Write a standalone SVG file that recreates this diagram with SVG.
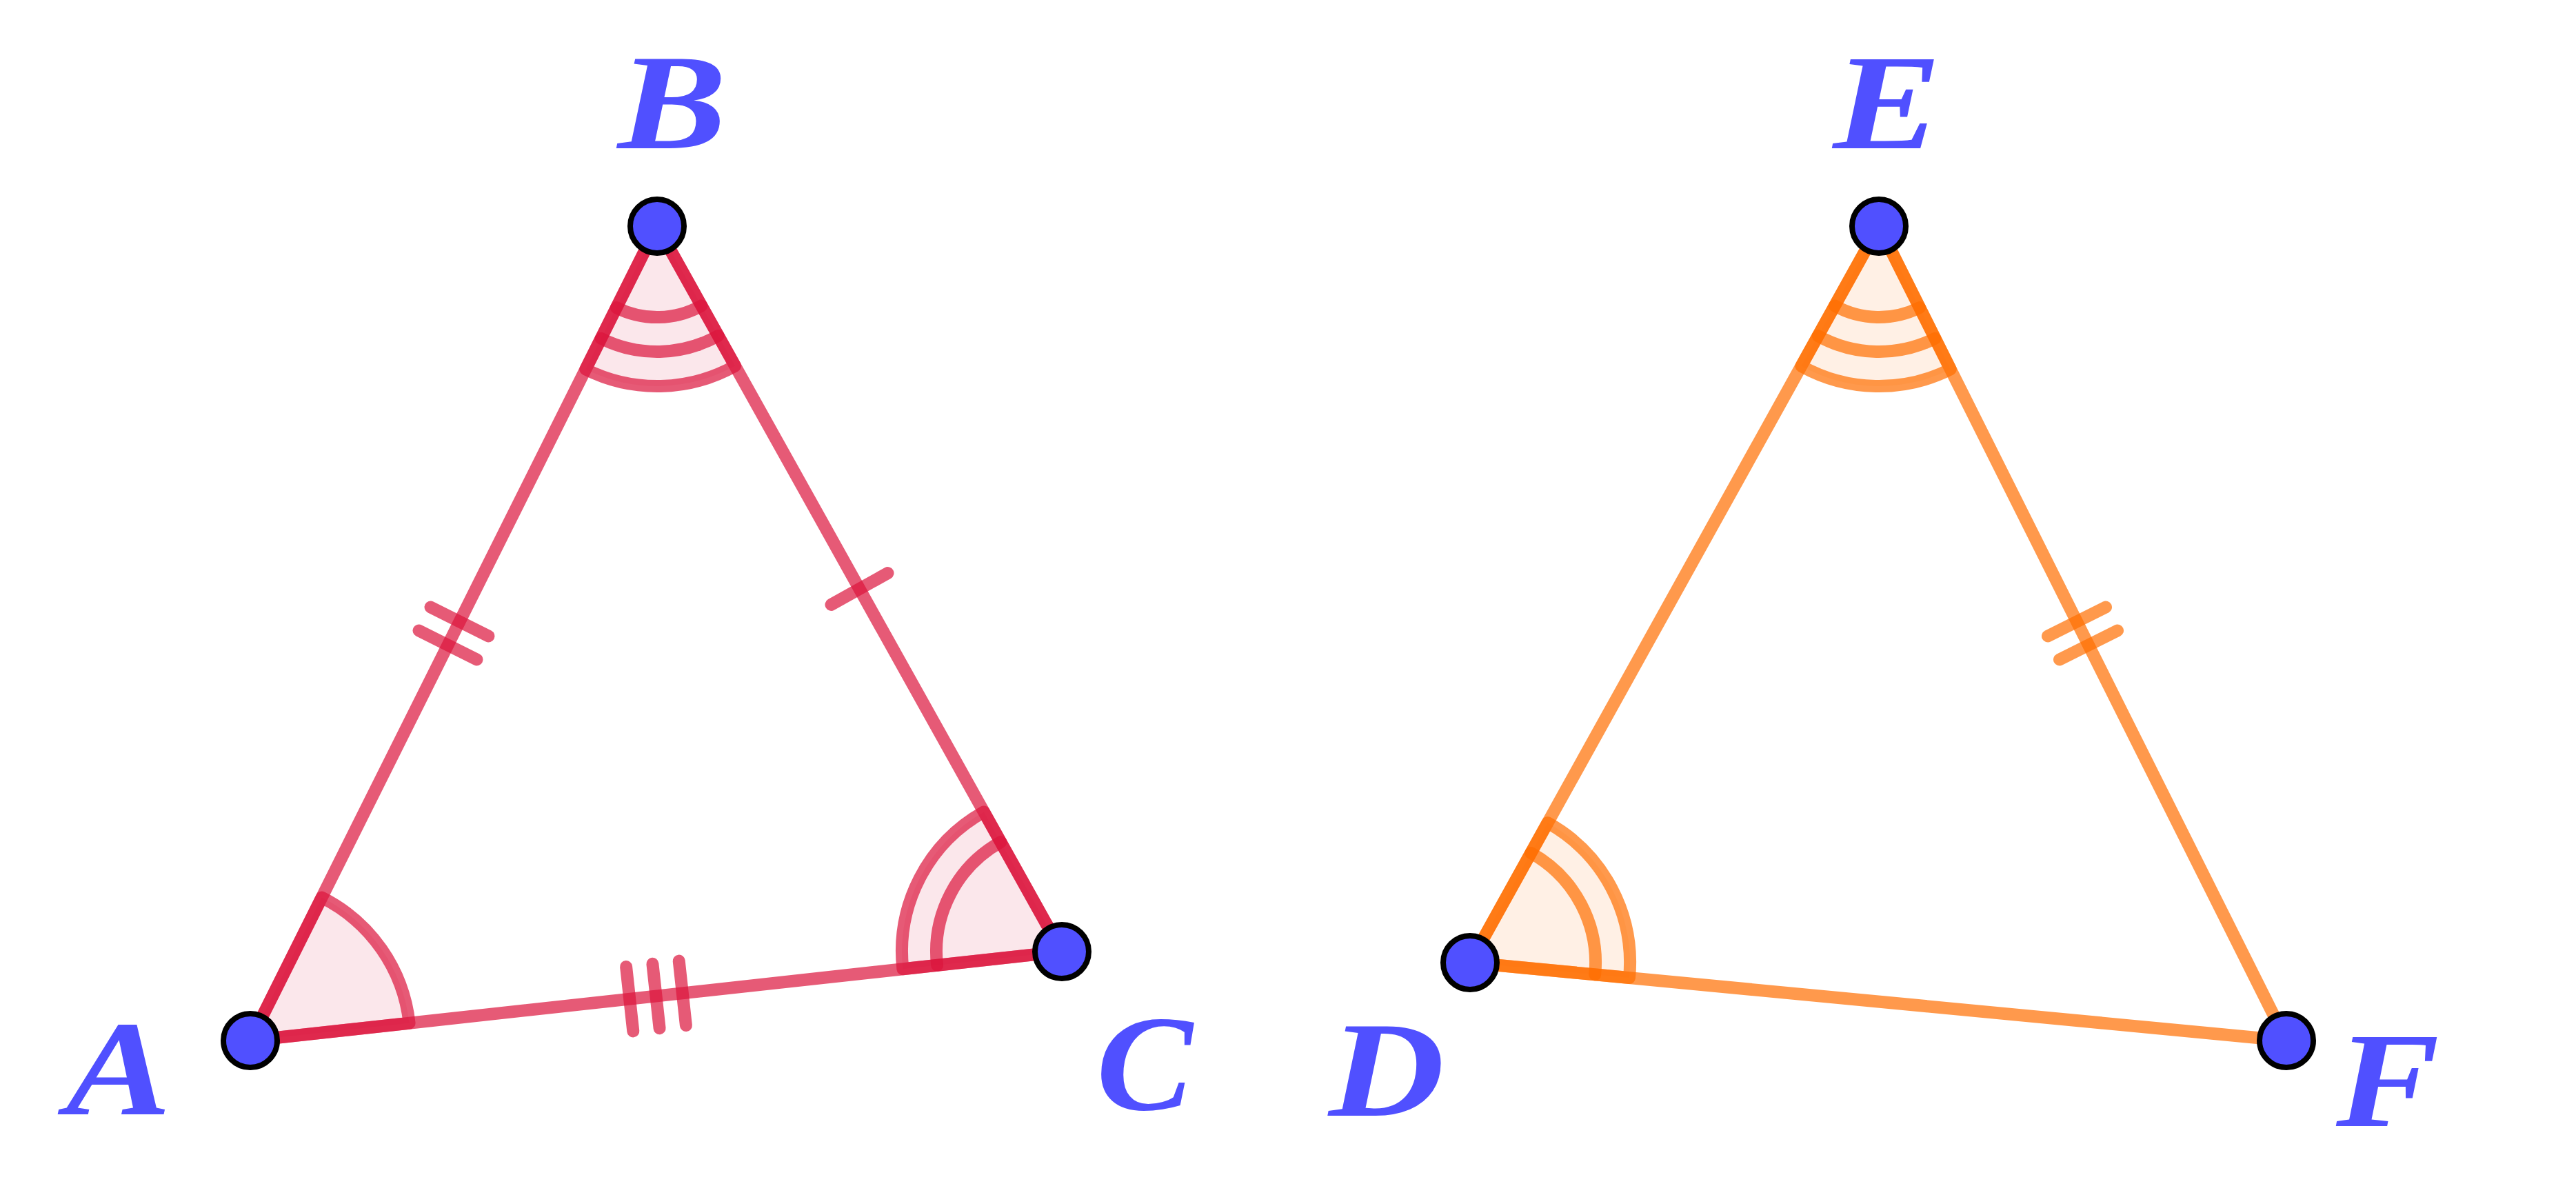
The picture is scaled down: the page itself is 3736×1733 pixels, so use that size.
<svg xmlns="http://www.w3.org/2000/svg" width="3736" height="1733" viewBox="0 0 3736 1733">
<style>
.bg{fill:#ffffff}
.r{stroke:rgb(220,20,60);stroke-opacity:0.7;stroke-width:18;fill:none;stroke-linecap:round;stroke-linejoin:round}
.rs{fill:rgb(220,20,60);fill-opacity:0.1}
.o{stroke:rgb(255,110,0);stroke-opacity:0.7;stroke-width:18;fill:none;stroke-linecap:round;stroke-linejoin:round}
.os{fill:rgb(255,110,0);fill-opacity:0.1}
.pt{fill:#5050FF;stroke:#000000;stroke-width:8}
.lbl{font-family:"Liberation Serif","Times New Roman",serif;font-style:italic;font-weight:bold;font-size:198px;fill:#5050FF;text-anchor:middle}
</style>
<rect class="bg" x="0" y="0" width="3736" height="1733"/>

<g id="angles">
  <!-- A: single arc -->
  <path class="r rs" d="M363 1509 L466.7 1301.5 A232 232 0 0 1 593.6 1483.7 Z"/>
  <!-- B: triple arcs -->
  <path class="r rs" d="M953 328 L1066.1 530.6 A232 232 0 0 1 849.3 535.5 Z"/>
  <path class="r" d="M1041.7 486.9 A182 182 0 0 1 871.7 490.8"/>
  <path class="r" d="M1017.3 443.3 A132 132 0 0 1 894.0 446.1"/>
  <!-- C: double arcs -->
  <path class="r rs" d="M1540 1380 L1309.4 1405.3 A232 232 0 0 1 1426.9 1177.4 Z"/>
  <path class="r" d="M1359.1 1399.8 A182 182 0 0 1 1451.3 1221.1"/>
  <!-- D: double arcs -->
  <path class="o os" d="M2132 1396 L2244.6 1193.2 A232 232 0 0 1 2363.0 1418.0 Z"/>
  <path class="o" d="M2220.3 1236.9 A182 182 0 0 1 2313.2 1413.3"/>
  <!-- E: triple arcs -->
  <path class="o os" d="M2725 328 L2828.8 535.5 A232 232 0 0 1 2612.4 530.8 Z"/>
  <path class="o" d="M2806.4 490.8 A182 182 0 0 1 2636.7 487.1"/>
  <path class="o" d="M2784.1 446.0 A132 132 0 0 1 2660.9 443.4"/>
</g>

<g id="connectors">
  <line id="AB" class="r" x1="363" y1="1509" x2="953" y2="328"/>
  <line id="BC" class="r" x1="953" y1="328" x2="1540" y2="1380"/>
  <line id="CA" class="r" x1="1540" y1="1380" x2="363" y2="1509"/>
  <line id="DE" class="o" x1="2132" y1="1396" x2="2725" y2="328"/>
  <line id="EF" class="o" x1="2725" y1="328" x2="3316" y2="1509"/>
  <line id="FD" class="o" x1="3316" y1="1509" x2="2132" y2="1396"/>
</g>

<g id="ticks">
  <line class="r" x1="624.5" y1="880.5" x2="708.5" y2="922.5"/>
  <line class="r" x1="607.5" y1="914.5" x2="691.5" y2="956.5"/>
  <line class="r" x1="1205.5" y1="876.9" x2="1287.5" y2="831.1"/>
  <line class="r" x1="908.1" y1="1402.0" x2="918.3" y2="1495.4"/>
  <line class="r" x1="946.4" y1="1397.8" x2="956.6" y2="1491.2"/>
  <line class="r" x1="984.7" y1="1393.6" x2="994.9" y2="1487.0"/>
  <line class="o" x1="2987.0" y1="956.5" x2="3071.0" y2="914.5"/>
  <line class="o" x1="2970.0" y1="922.5" x2="3054.0" y2="880.5"/>
</g>

<g id="node-A"><circle class="pt" cx="363" cy="1509" r="39"/><text class="lbl" x="172" y="1616" textLength="153" lengthAdjust="spacingAndGlyphs">A</text></g>
<g id="node-B"><circle class="pt" cx="953" cy="328" r="39"/><text class="lbl" x="975" y="215" textLength="158" lengthAdjust="spacingAndGlyphs">B</text></g>
<g id="node-C"><circle class="pt" cx="1540" cy="1380" r="39"/><text class="lbl" x="1660" y="1609" textLength="140" lengthAdjust="spacingAndGlyphs">C</text></g>
<g id="node-D"><circle class="pt" cx="2132" cy="1396" r="39"/><text class="lbl" x="2011" y="1618" textLength="168" lengthAdjust="spacingAndGlyphs">D</text></g>
<g id="node-E"><circle class="pt" cx="2725" cy="328" r="39"/><text class="lbl" x="2737" y="215" textLength="157" lengthAdjust="spacingAndGlyphs">E</text></g>
<g id="node-F"><circle class="pt" cx="3316" cy="1509" r="39"/><text class="lbl" x="3463" y="1633" textLength="150" lengthAdjust="spacingAndGlyphs">F</text></g>
</svg>
